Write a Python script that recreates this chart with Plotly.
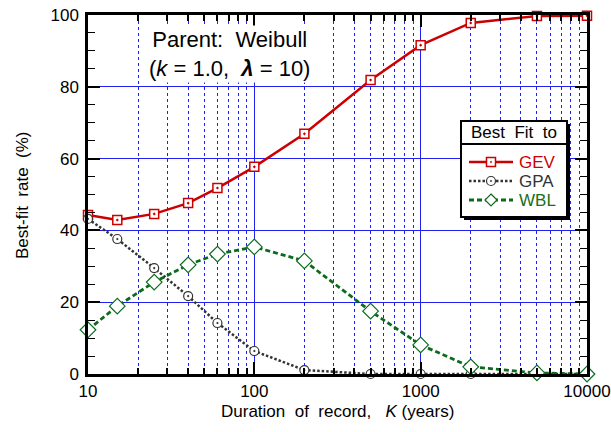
import plotly.graph_objects as go

K = [10, 15, 25, 40, 60, 100, 200, 500, 1000, 2000, 5000, 10000]
gev = [44.3, 42.9, 44.6, 47.6, 51.8, 57.7, 66.9, 81.9, 91.6, 97.8, 99.7, 99.8]
gpa = [43.2, 37.6, 29.5, 21.7, 14.2, 6.4, 1.1, 0.0, 0.0, 0.0, 0.0, 0.0]
wbl = [12.3, 18.9, 25.6, 30.4, 33.4, 35.4, 31.5, 17.5, 8.1, 2.0, 0.3, 0.0]
series_names = ["GEV", "GPA", "WBL"]

FONT = "Liberation Sans, Arial, sans-serif"
NB = "\u00a0"
RED, GRAY, GREEN = "#cc0000", "#333333", "#0b6b1b"
GPA_DASH = "2.5px,2px"
WBL_DASH = "5px,3px"

fig = go.Figure()
fig.add_trace(go.Scatter(
    x=K, y=gev, mode="lines+markers", cliponaxis=False, name=series_names[0],
    line=dict(color=RED, width=2.5),
    marker=dict(symbol="square-dot", size=9, color="white",
                line=dict(color=RED, width=1.5))))
fig.add_trace(go.Scatter(
    x=K, y=gpa, mode="lines+markers", cliponaxis=False, name=series_names[1],
    line=dict(color=GRAY, width=2.5, dash=GPA_DASH),
    marker=dict(symbol="circle-dot", size=9, color="white",
                line=dict(color=GRAY, width=1.2))))
fig.add_trace(go.Scatter(
    x=K, y=wbl, mode="lines+markers", cliponaxis=False, name=series_names[2],
    line=dict(color=GREEN, width=2.8, dash=WBL_DASH),
    marker=dict(symbol="diamond", size=12, color="white",
                line=dict(color=GREEN, width=1.2))))

grid_blue = "#2020f0"
fig.update_xaxes(
    type="log", range=[1, 4], tickvals=[10, 100, 1000, 10000],
    ticktext=["10", "100", "1000", "10000"],
    ticks="inside", ticklen=12, tickwidth=1.5, tickcolor="black",
    showline=True, linewidth=2.5, linecolor="black", mirror="ticks",
    showgrid=True, gridcolor=grid_blue, gridwidth=1,
    minor=dict(dtick="D1", ticks="inside", ticklen=6, tickwidth=1.5, tickcolor="black",
               showgrid=True, gridcolor=grid_blue, griddash="dot", gridwidth=1),
    tickfont=dict(family=FONT, size=17, color="black"),
    zeroline=False)
fig.update_yaxes(
    range=[0, 100], tickvals=[0, 20, 40, 60, 80, 100],
    ticks="inside", ticklen=12, tickwidth=1.5, tickcolor="black",
    showline=True, linewidth=2.5, linecolor="black", mirror="ticks",
    showgrid=True, gridcolor=grid_blue, gridwidth=1,
    minor=dict(dtick=5, ticks="inside", ticklen=7, tickwidth=1.2, tickcolor="black", showgrid=False),
    tickfont=dict(family=FONT, size=17, color="black"),
    ticklabelstandoff=3,
    zeroline=False)

# helpers: pixel -> paper fraction (plot area 88..587 x 15..374)
def px(x):
    return (x - 88) / 499
def py(y):
    return (374 - y) / 359

L, R, T, B = 461, 567, 121, 217
shapes = [
    dict(type="rect", xref="paper", yref="paper", x0=px(L + 3), x1=px(R + 3),
         y0=py(B + 3), y1=py(T + 3), fillcolor="black", line=dict(width=0), layer="above"),
    dict(type="rect", xref="paper", yref="paper", x0=px(L), x1=px(R),
         y0=py(B), y1=py(T), fillcolor="white", line=dict(color="black", width=2), layer="above"),
    dict(type="line", xref="paper", yref="paper", x0=px(L), x1=px(R),
         y0=py(144), y1=py(144), line=dict(color="black", width=2), layer="above"),
]

# legend keys
rows = [162, 181, 200]
cx = 491
y0 = rows[0]
shapes += [
    dict(type="line", xref="paper", yref="paper", x0=px(469), x1=px(513), y0=py(y0), y1=py(y0),
         line=dict(color=RED, width=2.5), layer="above"),
    dict(type="rect", xref="paper", yref="paper", x0=px(cx - 4.5), x1=px(cx + 4.5),
         y0=py(y0 + 4.5), y1=py(y0 - 4.5), fillcolor="white", line=dict(color=RED, width=1.5), layer="above"),
    dict(type="circle", xref="paper", yref="paper", x0=px(cx - 0.8), x1=px(cx + 0.8),
         y0=py(y0 + 0.8), y1=py(y0 - 0.8), fillcolor=RED, line=dict(color=RED, width=0.5), layer="above"),
]
y0 = rows[1]
shapes += [
    dict(type="line", xref="paper", yref="paper", x0=px(469), x1=px(513), y0=py(y0), y1=py(y0),
         line=dict(color=GRAY, width=2.5, dash=GPA_DASH), layer="above"),
    dict(type="circle", xref="paper", yref="paper", x0=px(cx - 4.5), x1=px(cx + 4.5),
         y0=py(y0 + 4.5), y1=py(y0 - 4.5), fillcolor="white", line=dict(color=GRAY, width=1.2), layer="above"),
    dict(type="circle", xref="paper", yref="paper", x0=px(cx - 0.8), x1=px(cx + 0.8),
         y0=py(y0 + 0.8), y1=py(y0 - 0.8), fillcolor=GRAY, line=dict(color=GRAY, width=0.5), layer="above"),
]
y0 = rows[2]
d = 6
shapes += [
    dict(type="line", xref="paper", yref="paper", x0=px(469), x1=px(513), y0=py(y0), y1=py(y0),
         line=dict(color=GREEN, width=2.8, dash=WBL_DASH), layer="above"),
    dict(type="path", xref="paper", yref="paper",
         path=f"M {px(cx)} {py(y0 - d)} L {px(cx + d)} {py(y0)} L {px(cx)} {py(y0 + d)} L {px(cx - d)} {py(y0)} Z",
         fillcolor="white", line=dict(color=GREEN, width=1.2), layer="above"),
]

leg_colors = ["#d00000", "#333333", "#1a6e1a"]
annotations = [
    dict(xref="paper", yref="paper", x=px(514), y=py(132.5),
         text="Best" + NB + NB + "Fit" + NB + NB + "to",
         showarrow=False, font=dict(family=FONT, size=17, color="black"),
         xanchor="center", yanchor="middle"),
    dict(xref="paper", yref="paper", x=px(229), y=py(54),
         text="Parent:" + NB + NB + "Weibull<br>(<i>k</i>" + NB + "=" + NB + "1.0," + NB + NB
              + "<b><i>λ</i></b>" + NB + "=" + NB + "10)",
         showarrow=False, font=dict(family=FONT, size=22, color="black"),
         bgcolor="white", xanchor="center", yanchor="middle", align="center"),
    dict(xref="paper", yref="paper", x=px(337), y=py(411),
         text="Duration" + NB + NB + "of" + NB + NB + "record," + NB + NB + NB + "<i>K</i>" + NB + "(years)",
         showarrow=False, font=dict(family=FONT, size=17, color="black"),
         xanchor="center", yanchor="middle"),
    dict(xref="paper", yref="paper", x=px(22), y=py(195),
         text="Best-fit" + NB + NB + "rate" + NB + NB + "(%)", textangle=-90,
         showarrow=False, font=dict(family=FONT, size=17, color="black"),
         xanchor="center", yanchor="middle"),
]
for nm, c, yy in zip(series_names, leg_colors, rows):
    annotations.append(dict(xref="paper", yref="paper", x=px(517), y=py(yy), text=nm,
                            showarrow=False, font=dict(family=FONT, size=17, color=c),
                            xanchor="left", yanchor="middle"))

fig.update_layout(
    width=611, height=432,
    margin=dict(l=88, r=24, t=15, b=58, autoexpand=False),
    paper_bgcolor="white", plot_bgcolor="white",
    font=dict(family=FONT, size=16, color="black"),
    showlegend=False,
    shapes=shapes,
    annotations=annotations,
)

fig.write_html("out.html")
